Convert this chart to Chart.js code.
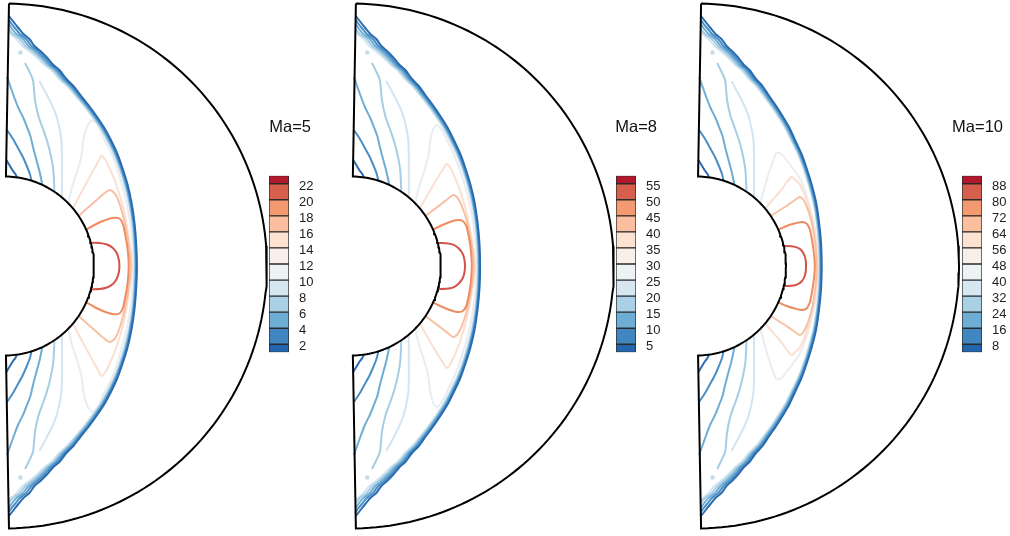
<!DOCTYPE html>
<html>
<head>
<meta charset="utf-8">
<script src="https://cdn.jsdelivr.net/npm/chart.js@4.4.1/dist/chart.umd.min.js"></script>
<style>
  body { margin: 0; background: #fff; width: 1010px; height: 536px; position: relative; overflow: hidden; font-family: "Liberation Sans", Arial, sans-serif; }
  canvas { position: absolute; }
  .ttl { position: absolute; width: 80px; text-align: right; font-size: 16.5px; line-height: 20px; color: #111; }
</style>
</head>
<body>
<canvas id="p1" width="270" height="536" style="left:0;top:0"></canvas>
<canvas id="p2" width="270" height="536" style="left:347px;top:0"></canvas>
<canvas id="p3" width="270" height="536" style="left:692px;top:0"></canvas>
<canvas id="c1" width="60" height="225" style="left:269px;top:152px"></canvas>
<canvas id="c2" width="60" height="225" style="left:616px;top:152px"></canvas>
<canvas id="c3" width="60" height="225" style="left:962px;top:152px"></canvas>
<div class="ttl" style="left:231px;top:116px">Ma=5</div>
<div class="ttl" style="left:577px;top:116px">Ma=8</div>
<div class="ttl" style="left:923px;top:116px">Ma=10</div>
<script>
// ---- colour bar data ----
const ma5Edges = [1, 2, 4, 6, 8, 10, 12, 14, 16, 18, 20, 22, 23];
const ma8Edges = [2.5, 5, 10, 15, 20, 25, 30, 35, 40, 45, 50, 55, 57.5];
const ma10Edges = [4, 8, 16, 24, 32, 40, 48, 56, 64, 72, 80, 88, 92];
const bandColors = ['#2266ad', '#4186c0', '#6eaed4', '#a9d0e5', '#d6e7f1', '#edf2f5',
                    '#f8efea', '#fde2d2', '#fbbfa0', '#f39a70', '#d6604d', '#b2182b'];

// ---- geometry of the domain (pixels, centre of the body = 0,0) ----
const innerRadius = 89.5;
const outerRadius = 262.5;
const halfAngle = 89; // degrees

// ---- contour lines, flat x / y pairs, y up ----
// radial lines near the left edge (look the same in all three panels)
const rad2Up = [1.9,106, 5,101, 8,96, 11,92, 12.5,88.6];
const rad2Dn = [1.9,-106, 5,-101, 8,-96, 11,-92, 12.5,-88.6];
const rad4Up = [2.6,136, 8.6,127, 13,119, 18,110, 22,101, 25.5,92, 27,85.3];
const rad4Dn = [2.6,-136, 8.6,-127, 13,-119, 18,-110, 22,-101, 25.5,-92, 27,-85.3];
const rad6Up = [2.6,189, 9,171, 13.6,159, 19,148, 22.6,139, 26,130, 28.6,119, 32,106, 35,95, 38,81];
const rad6Dn = [2.6,-189, 9,-171, 13.6,-159, 19,-148, 22.6,-139, 26,-130, 28.6,-119, 32,-106, 35,-95, 38,-81];
const rad8Up = [20.6,203, 25.6,193, 28.6,186, 30.6,166, 34,150, 39,136, 43,124, 46.5,110, 49,95, 50,74.2];
const rad8Dn = [20.6,-203, 25.6,-193, 28.6,-186, 30.6,-166, 34,-150, 39,-136, 43,-124, 46.5,-110, 49,-95, 50,-74.2];
const rad10Up = [35,185, 42,172, 48,160, 52,150, 55,138, 57,126, 57.5,110, 57.5,90, 57.5,68.6];
const rad10Dn = [35,-185, 42,-172, 48,-160, 52,-150, 55,-138, 57,-126, 57.5,-110, 57.5,-90, 57.5,-68.6];
// small islands near the upper and lower corners
const islands = [16,213.5, 16,-211.5];

// Ma=5 : lines hugging the bow shock (top edge -> bottom edge)
const ma5Hug2 = [4.5,250, 10,243, 14,238, 19,232, 25,227, 30,220, 36,215, 43,208, 49,201, 55,196, 62,187, 69,180, 76,171, 84,161, 92,150, 100,138, 107,125, 113,112, 118,98, 123,82, 127,64, 130,44, 131.8,22, 132.5,0,
  131.8,-22, 130,-44, 127,-64, 123,-82, 118,-98, 113,-112, 107,-125, 100,-138, 92,-150, 84,-161, 76,-171, 69,-180, 62,-187, 55,-196, 49,-201, 43,-208, 36,-215, 30,-220, 25,-227, 19,-232, 14,-238, 10,-243, 4.5,-250];
const ma5Hug4 = [4.4,246, 6.5,243, 10.5,238, 15.5,232, 21.8,227, 27,220, 33.2,215, 40.5,208, 46.8,201, 53,196, 60.2,187, 67.4,180, 74.6,171, 82.7,161, 90.8,150, 98.9,138, 106,125, 112.1,112, 117.2,98, 122.2,82, 126.3,64, 129.4,44, 131.2,22, 131.9,0,
  131.2,-22, 129.4,-44, 126.3,-64, 122.2,-82, 117.2,-98, 112.1,-112, 106,-125, 98.9,-138, 90.8,-150, 82.7,-161, 74.6,-171, 67.4,-180, 60.2,-187, 53,-196, 46.8,-201, 40.5,-208, 33.2,-215, 27,-220, 21.8,-227, 15.5,-232, 10.5,-238, 6.5,-243, 4.4,-246];
const ma5Hug6 = [4.3,242, 7,238, 12,232, 18.6,227, 24,220, 30.4,215, 38,208, 44.6,201, 51,196, 58.4,187, 65.8,180, 73.2,171, 81.4,161, 89.6,150, 97.8,138, 105,125, 111.2,112, 116.4,98, 121.4,82, 125.6,64, 128.8,44, 130.6,22, 131.3,0,
  130.6,-22, 128.8,-44, 125.6,-64, 121.4,-82, 116.4,-98, 111.2,-112, 105,-125, 97.8,-138, 89.6,-150, 81.4,-161, 73.2,-171, 65.8,-180, 58.4,-187, 51,-196, 44.6,-201, 38,-208, 30.4,-215, 24,-220, 18.6,-227, 12,-232, 7,-238, 4.3,-242];
const ma5Hug8 = [4.2,237, 8.5,232, 15.4,227, 21,220, 27.6,215, 35.5,208, 42.4,201, 49,196, 56.6,187, 64.2,180, 71.8,171, 80.1,161, 88.4,150, 96.7,138, 104,125, 110.3,112, 115.6,98, 120.6,82, 124.9,64, 128.2,44, 130,22, 130.7,0,
  130,-22, 128.2,-44, 124.9,-64, 120.6,-82, 115.6,-98, 110.3,-112, 104,-125, 96.7,-138, 88.4,-150, 80.1,-161, 71.8,-171, 64.2,-180, 56.6,-187, 49,-196, 42.4,-201, 35.5,-208, 27.6,-215, 21,-220, 15.4,-227, 8.5,-232, 4.2,-237];
const ma5Hug10 = [4.1,234, 12.2,227, 18,220, 24.8,215, 33,208, 40.2,201, 47,196, 54.8,187, 62.6,180, 70.4,171, 78.8,161, 87.2,150, 95.6,138, 103,125, 109.4,112, 114.8,98, 119.8,82, 124.2,64, 127.6,44, 129.4,22, 130.1,0,
  129.4,-22, 127.6,-44, 124.2,-64, 119.8,-82, 114.8,-98, 109.4,-112, 103,-125, 95.6,-138, 87.2,-150, 78.8,-161, 70.4,-171, 62.6,-180, 54.8,-187, 47,-196, 40.2,-201, 33,-208, 24.8,-215, 18,-220, 12.2,-227, 4.1,-234];
// Ma=5 : body -> shock layer -> body
const ma5Line12 = [63.8,62.8, 68,80, 73,95, 77,110, 79,126, 83,140, 88,146, 94,140, 99,128, 106,115, 111.5,101, 116.5,85, 121,68, 124.8,50, 127.3,30, 128.6,12, 128.9,0,
  128.6,-12, 127.3,-30, 124.8,-50, 121,-68, 116.5,-85, 111.5,-101, 106,-115, 99,-128, 94,-140, 88,-146, 83,-140, 79,-126, 77,-110, 73,-95, 68,-80, 63.8,-62.8];
const ma5Line14 = [68.6,57.5, 75,70, 82,83, 88,94, 93,103, 97,110, 101,106, 106,96, 111,84, 115.5,70, 119.5,55, 122.8,38, 125.5,20, 127.3,6, 127.6,0,
  127.3,-6, 125.5,-20, 122.8,-38, 119.5,-55, 115.5,-70, 111,-84, 106,-96, 101,-106, 97,-110, 93,-103, 88,-94, 82,-83, 75,-70, 68.6,-57.5];
const ma5Line16 = [74.2,50, 82,57, 90,64, 98,71, 105,76, 109,74, 112.5,69, 115.5,61, 118.5,51, 121,40, 123.5,27, 125.3,13, 126.3,0,
  125.3,-13, 123.5,-27, 121,-40, 118.5,-51, 115.5,-61, 112.5,-69, 109,-74, 105,-76, 98,-71, 90,-64, 82,-57, 74.2,-50];
const ma5Line18 = [81.8,36.4, 90,41, 98.5,45, 108,48, 115,47.5, 118.5,42, 120.5,33, 122.5,22, 123.8,11, 124.3,0,
  123.8,-11, 122.5,-22, 120.5,-33, 118.5,-42, 115,-47.5, 108,-48, 98.5,-45, 90,-41, 81.8,-36.4];
const ma5Loop = [86.5,23.2, 95,23, 102.5,21.5, 108.5,18, 112.5,12.5, 114.5,6, 115,0, 114.5,-6, 112.5,-12.5, 108.5,-18, 102.5,-21.5, 95,-23, 86.5,-23.2];

// Ma=8
const ma8Hug2 = [4.5,250, 10,243, 14,238, 19,232, 25,227, 30,220, 35.7,215, 42.5,208, 48.3,201, 54,196, 60.7,187, 67.5,180, 74,171, 81.5,161, 89,150, 96.5,138, 103,125, 109,112, 114,98, 119,82, 123.2,64, 126.2,44, 128.2,22, 128.8,0,
  128.2,-22, 126.2,-44, 123.2,-64, 119,-82, 114,-98, 109,-112, 103,-125, 96.5,-138, 89,-150, 81.5,-161, 74,-171, 67.5,-180, 60.7,-187, 54,-196, 48.3,-201, 42.5,-208, 35.7,-215, 30,-220, 25,-227, 19,-232, 14,-238, 10,-243, 4.5,-250];
const ma8Hug4 = [4.4,246, 6.5,243, 10.5,238, 15.5,232, 21.8,227, 27,220, 32.9,215, 40,208, 46.1,201, 52,196, 58.9,187, 65.9,180, 72.6,171, 80.2,161, 87.8,150, 95.4,138, 102,125, 108.1,112, 113.2,98, 118.2,82, 122.5,64, 125.6,44, 127.6,22, 128.2,0,
  127.6,-22, 125.6,-44, 122.5,-64, 118.2,-82, 113.2,-98, 108.1,-112, 102,-125, 95.4,-138, 87.8,-150, 80.2,-161, 72.6,-171, 65.9,-180, 58.9,-187, 52,-196, 46.1,-201, 40,-208, 32.9,-215, 27,-220, 21.8,-227, 15.5,-232, 10.5,-238, 6.5,-243, 4.4,-246];
const ma8Hug6 = [4.3,242, 7,238, 12,232, 18.6,227, 24,220, 30.1,215, 37.5,208, 43.9,201, 50,196, 57.1,187, 64.3,180, 71.2,171, 78.9,161, 86.6,150, 94.3,138, 101,125, 107.2,112, 112.4,98, 117.4,82, 121.8,64, 125,44, 127,22, 127.6,0,
  127,-22, 125,-44, 121.8,-64, 117.4,-82, 112.4,-98, 107.2,-112, 101,-125, 94.3,-138, 86.6,-150, 78.9,-161, 71.2,-171, 64.3,-180, 57.1,-187, 50,-196, 43.9,-201, 37.5,-208, 30.1,-215, 24,-220, 18.6,-227, 12,-232, 7,-238, 4.3,-242];
const ma8Hug8 = [4.2,237, 8.5,232, 15.4,227, 21,220, 27.3,215, 35,208, 41.7,201, 48,196, 55.3,187, 62.7,180, 69.8,171, 77.6,161, 85.4,150, 93.2,138, 100,125, 106.3,112, 111.6,98, 116.6,82, 121.1,64, 124.4,44, 126.4,22, 127,0,
  126.4,-22, 124.4,-44, 121.1,-64, 116.6,-82, 111.6,-98, 106.3,-112, 100,-125, 93.2,-138, 85.4,-150, 77.6,-161, 69.8,-171, 62.7,-180, 55.3,-187, 48,-196, 41.7,-201, 35,-208, 27.3,-215, 21,-220, 15.4,-227, 8.5,-232, 4.2,-237];
const ma8Hug10 = [4.1,234, 12.2,227, 18,220, 24.5,215, 32.5,208, 39.5,201, 46,196, 53.5,187, 61.1,180, 68.4,171, 76.3,161, 84.2,150, 92.1,138, 99,125, 105.4,112, 110.8,98, 115.8,82, 120.4,64, 123.8,44, 125.8,22, 126.4,0,
  125.8,-22, 123.8,-44, 120.4,-64, 115.8,-82, 110.8,-98, 105.4,-112, 99,-125, 92.1,-138, 84.2,-150, 76.3,-161, 68.4,-171, 61.1,-180, 53.5,-187, 46,-196, 39.5,-201, 32.5,-208, 24.5,-215, 18,-220, 12.2,-227, 4.1,-234];
const ma8Line12 = [63.8,62.8, 68,80, 73,95, 77,110, 79,126, 82,137, 86,141, 91,135, 96,125, 102,113, 107.5,99, 112.5,84, 117,68, 120.8,50, 123.5,30, 124.9,12, 125.2,0,
  124.9,-12, 123.5,-30, 120.8,-50, 117,-68, 112.5,-84, 107.5,-99, 102,-113, 96,-125, 91,-135, 86,-141, 82,-137, 79,-126, 77,-110, 73,-95, 68,-80, 63.8,-62.8];
const ma8Line14 = [68.6,57.5, 75,69, 82,81, 88,91, 92.5,98, 95,102, 98.5,99, 103,90, 107.5,79, 111.8,66, 115.5,52, 118.8,37, 121.6,20, 123.6,6, 124,0,
  123.6,-6, 121.6,-20, 118.8,-37, 115.5,-52, 111.8,-66, 107.5,-79, 103,-90, 98.5,-99, 95,-102, 92.5,-98, 88,-91, 82,-81, 75,-69, 68.6,-57.5];
const ma8Line16 = [74.2,50, 82,56, 90,62, 97,67.5, 102,71, 105.5,69, 109,63.5, 112,56, 115,47, 117.5,36, 119.8,24, 121.6,12, 122.5,0,
  121.6,-12, 119.8,-24, 117.5,-36, 115,-47, 112,-56, 109,-63.5, 105.5,-69, 102,-71, 97,-67.5, 90,-62, 82,-56, 74.2,-50];
const ma8Line18 = [81.8,36.4, 90,40.5, 98.5,44, 106,46, 111.5,45, 115,40, 117,32, 118.8,22, 120,11, 120.5,0,
  120,-11, 118.8,-22, 117,-32, 115,-40, 111.5,-45, 106,-46, 98.5,-44, 90,-40.5, 81.8,-36.4];
const ma8Loop = [86.5,23, 95,22.8, 102,21.3, 107.5,17.5, 111.5,12, 113.2,6, 113.7,0, 113.2,-6, 111.5,-12, 107.5,-17.5, 102,-21.3, 95,-22.8, 86.5,-23];

// Ma=10
const ma10Hug2 = [4.5,250, 10,243, 14,238, 19,232, 25,227, 30,220, 35.5,215, 42,208, 47.5,201, 53,196, 59.5,187, 66,180, 72,171, 79,161, 86,150, 93,138, 99,125, 105,112, 110,98, 115,82, 119.5,64, 122.5,44, 124.6,22, 125.2,0,
  124.6,-22, 122.5,-44, 119.5,-64, 115,-82, 110,-98, 105,-112, 99,-125, 93,-138, 86,-150, 79,-161, 72,-171, 66,-180, 59.5,-187, 53,-196, 47.5,-201, 42,-208, 35.5,-215, 30,-220, 25,-227, 19,-232, 14,-238, 10,-243, 4.5,-250];
const ma10Hug4 = [4.4,246, 6.5,243, 10.5,238, 15.5,232, 21.8,227, 27,220, 32.7,215, 39.5,208, 45.3,201, 51,196, 57.7,187, 64.4,180, 70.6,171, 77.7,161, 84.8,150, 91.9,138, 98,125, 104.1,112, 109.2,98, 114.2,82, 118.8,64, 121.9,44, 124,22, 124.6,0,
  124,-22, 121.9,-44, 118.8,-64, 114.2,-82, 109.2,-98, 104.1,-112, 98,-125, 91.9,-138, 84.8,-150, 77.7,-161, 70.6,-171, 64.4,-180, 57.7,-187, 51,-196, 45.3,-201, 39.5,-208, 32.7,-215, 27,-220, 21.8,-227, 15.5,-232, 10.5,-238, 6.5,-243, 4.4,-246];
const ma10Hug6 = [4.3,242, 7,238, 12,232, 18.6,227, 24,220, 29.9,215, 37,208, 43.1,201, 49,196, 55.9,187, 62.8,180, 69.2,171, 76.4,161, 83.6,150, 90.8,138, 97,125, 103.2,112, 108.4,98, 113.4,82, 118.1,64, 121.3,44, 123.4,22, 124,0,
  123.4,-22, 121.3,-44, 118.1,-64, 113.4,-82, 108.4,-98, 103.2,-112, 97,-125, 90.8,-138, 83.6,-150, 76.4,-161, 69.2,-171, 62.8,-180, 55.9,-187, 49,-196, 43.1,-201, 37,-208, 29.9,-215, 24,-220, 18.6,-227, 12,-232, 7,-238, 4.3,-242];
const ma10Hug8 = [4.2,237, 8.5,232, 15.4,227, 21,220, 27.1,215, 34.5,208, 40.9,201, 47,196, 54.1,187, 61.2,180, 67.8,171, 75.1,161, 82.4,150, 89.7,138, 96,125, 102.3,112, 107.6,98, 112.6,82, 117.4,64, 120.7,44, 122.8,22, 123.4,0,
  122.8,-22, 120.7,-44, 117.4,-64, 112.6,-82, 107.6,-98, 102.3,-112, 96,-125, 89.7,-138, 82.4,-150, 75.1,-161, 67.8,-171, 61.2,-180, 54.1,-187, 47,-196, 40.9,-201, 34.5,-208, 27.1,-215, 21,-220, 15.4,-227, 8.5,-232, 4.2,-237];
const ma10Hug10 = [4.1,234, 12.2,227, 18,220, 24.3,215, 32,208, 38.7,201, 45,196, 52.3,187, 59.6,180, 66.4,171, 73.8,161, 81.2,150, 88.6,138, 95,125, 101.4,112, 106.8,98, 111.8,82, 116.7,64, 120.1,44, 122.2,22, 122.8,0,
  122.2,-22, 120.1,-44, 116.7,-64, 111.8,-82, 106.8,-98, 101.4,-112, 95,-125, 88.6,-138, 81.2,-150, 73.8,-161, 66.4,-171, 59.6,-180, 52.3,-187, 45,-196, 38.7,-201, 32,-208, 24.3,-215, 18,-220, 12.2,-227, 4.1,-234];
const ma10Line12 = [63.8,62.8, 68,78, 72,92, 76,104, 80,113, 85,112, 90,106, 96,98, 102.5,89, 107.5,78, 111.5,66, 115,53, 118,40, 120.3,26, 121.8,12, 122.3,0,
  121.8,-12, 120.3,-26, 118,-40, 115,-53, 111.5,-66, 107.5,-78, 102.5,-89, 96,-98, 90,-106, 85,-112, 80,-113, 76,-104, 72,-92, 68,-78, 63.8,-62.8];
const ma10Line14 = [68.6,57.5, 76,66, 83,74, 89,82, 95,89, 99,86, 103,82, 107,74, 110.5,65, 113.5,55, 116,44, 118.3,32, 120,19, 121.2,7, 121.5,0,
  121.2,-7, 120,-19, 118.3,-32, 116,-44, 113.5,-55, 110.5,-65, 107,-74, 103,-82, 99,-86, 95,-89, 89,-82, 83,-74, 76,-66, 68.6,-57.5];
const ma10Line16 = [74.2,50, 82,55, 90,60, 97,65, 103.5,69, 107,66, 110.5,59, 113.5,50, 116,40, 118,28, 119.5,15, 120.3,0,
  119.5,-15, 118,-28, 116,-40, 113.5,-50, 110.5,-59, 107,-66, 103.5,-69, 97,-65, 90,-60, 82,-55, 74.2,-50];
const ma10Line18 = [81.8,36.4, 90,40, 99,42.7, 106,44, 110.5,42, 113.5,36, 115.5,26, 117,16, 118,7, 118.3,0,
  118,-7, 117,-16, 115.5,-26, 113.5,-36, 110.5,-42, 106,-44, 99,-42.7, 90,-40, 81.8,-36.4];
const ma10Loop = [87.5,20, 95,19.8, 101,18.3, 105.5,15, 108.2,10, 109.3,5, 109.5,0, 109.3,-5, 108.2,-10, 105.5,-15, 101,-18.3, 95,-19.8, 87.5,-20];

const lineColors = {
  2: '#2a6bb0', 4: '#4a8ec4', 6: '#6fadd4', 8: '#a6cde3', 9: '#c4dbea', 10: '#d2e5f0',
  12: '#e9edf1', 14: '#fbe0d2', 16: '#f8c0a2', 18: '#ef8c62', 20: '#d2544a'
};

function pts(flat) {
  const out = [];
  for (let i = 0; i < flat.length; i += 2) out.push({ x: flat[i], y: flat[i + 1] });
  return out;
}

// outline of the computational domain: outer arc, lower edge, body, upper edge
function outline() {
  const out = [];
  const n = 120;
  for (let i = 0; i <= n; i++) {
    const a = (halfAngle - 2 * halfAngle * i / n) * Math.PI / 180;
    out.push({ x: outerRadius * Math.cos(a), y: outerRadius * Math.sin(a) });
  }
  for (let i = 0; i <= n; i++) {
    const a = (-halfAngle + 2 * halfAngle * i / n) * Math.PI / 180;
    out.push({ x: innerRadius * Math.cos(a), y: innerRadius * Math.sin(a) });
  }
  out.push(out[0]);
  return out;
}

function line(flat, level) {
  return {
    data: pts(flat),
    showLine: true,
    borderColor: lineColors[level],
    borderWidth: 2,
    pointRadius: 0,
    fill: false,
    tension: 0.25,
  };
}

function drawPanel(id, centerX, canvasLeft, s) {
  const xMin = -(centerX - canvasLeft);
  // first dataset is painted on top
  const datasets = [
    {
      data: outline(),
      showLine: true,
      borderColor: '#000',
      borderWidth: 2,
      pointRadius: 0,
      fill: false,
      tension: 0,
    },
    line(s.hug2, 2), line(rad2Up, 2), line(rad2Dn, 2), line(s.loop, 20),
    line(s.hug4, 4), line(rad4Up, 4), line(rad4Dn, 4), line(s.line18, 18),
    line(s.hug6, 6), line(rad6Up, 6), line(rad6Dn, 6), line(s.line16, 16),
    line(s.hug8, 8), line(rad8Up, 8), line(rad8Dn, 8), line(s.line14, 14),
    {
      data: pts(islands),
      showLine: false,
      pointRadius: 2.2,
      pointBorderWidth: 0,
      pointBackgroundColor: lineColors[9],
    },
    line(s.hug10, 10), line(rad10Up, 10), line(rad10Dn, 10), line(s.line12, 12),
  ];
  new Chart(document.getElementById(id), {
    type: 'scatter',
    data: { datasets: datasets },
    options: {
      responsive: false,
      animation: false,
      layout: { padding: 0, autoPadding: false },
      plugins: { legend: { display: false }, tooltip: { enabled: false } },
      scales: {
        x: { type: 'linear', display: false, min: xMin, max: xMin + 270 },
        y: { type: 'linear', display: false, min: -270, max: 266 },
      },
    },
  });
}

function drawColorbar(id, edges) {
  const datasets = [];
  for (let i = 0; i < edges.length - 1; i++) {
    datasets.push({
      data: [[edges[i], edges[i + 1]]],
      backgroundColor: bandColors[i],
      borderColor: '#2b2b2b',
      borderWidth: 1,
      borderSkipped: false,
    });
  }
  const ticks = edges.slice(1, -1);
  new Chart(document.getElementById(id), {
    type: 'bar',
    data: { labels: ['t'], datasets: datasets },
    options: {
      responsive: false,
      animation: false,
      layout: { padding: { left: 0, right: 0, top: 23.7, bottom: 24.7 } },
      datasets: { bar: { barPercentage: 1, categoryPercentage: 1, grouped: false } },
      plugins: { legend: { display: false }, tooltip: { enabled: false } },
      scales: {
        x: { display: false },
        y: {
          position: 'right',
          min: edges[0],
          max: edges[edges.length - 1],
          grid: { display: false, drawTicks: false },
          border: { display: false },
          afterBuildTicks: (scale) => { scale.ticks = ticks.map(v => ({ value: v })); },
          afterFit: (scale) => { scale.width = 40; },
          ticks: {
            autoSkip: false,
            padding: 10,
            labelOffset: 2.5,
            color: '#222',
            font: { family: 'Liberation Sans', size: 13 },
          },
        },
      },
    },
  });
}

drawPanel('p1', 4.4, 0, { hug2: ma5Hug2, hug4: ma5Hug4, hug6: ma5Hug6, hug8: ma5Hug8, hug10: ma5Hug10,
  line12: ma5Line12, line14: ma5Line14, line16: ma5Line16, line18: ma5Line18, loop: ma5Loop });
drawPanel('p2', 351.3, 347, { hug2: ma8Hug2, hug4: ma8Hug4, hug6: ma8Hug6, hug8: ma8Hug8, hug10: ma8Hug10,
  line12: ma8Line12, line14: ma8Line14, line16: ma8Line16, line18: ma8Line18, loop: ma8Loop });
drawPanel('p3', 696.5, 692, { hug2: ma10Hug2, hug4: ma10Hug4, hug6: ma10Hug6, hug8: ma10Hug8, hug10: ma10Hug10,
  line12: ma10Line12, line14: ma10Line14, line16: ma10Line16, line18: ma10Line18, loop: ma10Loop });
drawColorbar('c1', ma5Edges);
drawColorbar('c2', ma8Edges);
drawColorbar('c3', ma10Edges);
</script>
</body>
</html>
